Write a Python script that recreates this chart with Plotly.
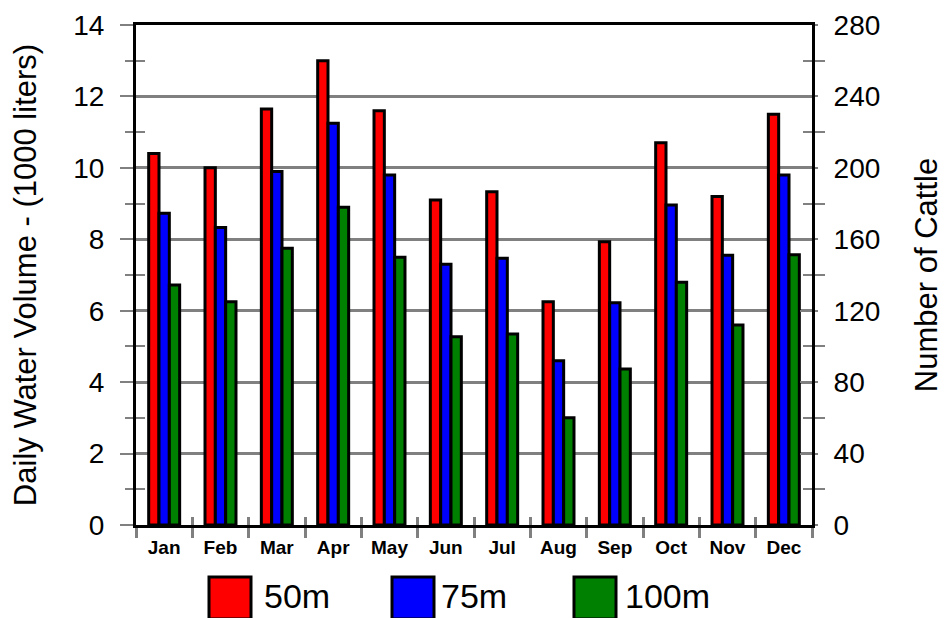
import plotly.graph_objects as go

months = ["Jan", "Feb", "Mar", "Apr", "May", "Jun", "Jul", "Aug", "Sep", "Oct", "Nov", "Dec"]
vol_50m = [10.4, 10.0, 11.65, 13.0, 11.6, 9.1, 9.33, 6.25, 7.93, 10.7, 9.2, 11.5]
vol_75m = [8.73, 8.33, 9.9, 11.25, 9.8, 7.3, 7.47, 4.6, 6.22, 8.96, 7.55, 9.8]
vol_100m = [6.72, 6.25, 7.75, 8.9, 7.5, 5.27, 5.35, 3.0, 4.37, 6.8, 5.6, 7.57]
series_names = ["50m", "75m", "100m"]
series_colors = ["#FF0000", "#0000FF", "#008000"]

# the page body has an 8px margin; compensate so the plot lands where the reference has it
OFF = 8
W, H = 946 - OFF, 618 - OFF
L, T = 136 - OFF, 25 - OFF
PW, PH = 676, 500
R, B = W - L - PW, H - T - PH


def px(page_x):
    return (page_x - OFF - L) / PW


def py(page_y):
    return (T + PH - (page_y - OFF)) / PH


FONT = "Liberation Sans, Arial, sans-serif"
GRAY = "#808080"

fig = go.Figure()
for name, vals, col in zip(series_names, [vol_50m, vol_75m, vol_100m], series_colors):
    fig.add_bar(x=months, y=vals, name=name,
                marker=dict(color=col, line=dict(color="black", width=3)),
                showlegend=False)

# helper traces to activate overlay axes
fig.add_scatter(x=months, y=[None] * 12, yaxis="y2", showlegend=False, hoverinfo="skip")
fig.add_scatter(x=months, y=[None] * 12, xaxis="x2", yaxis="y3", showlegend=False, hoverinfo="skip")
fig.add_scatter(x=months, y=[None] * 12, yaxis="y4", showlegend=False, hoverinfo="skip")

fig.update_layout(
    width=W, height=H,
    margin=dict(l=L, r=R, t=T, b=B, autoexpand=False),
    paper_bgcolor="white", plot_bgcolor="white",
    barmode="group", bargap=0.45, bargroupgap=0,
    font=dict(family=FONT, color="black"),
    xaxis=dict(type="category", categoryarray=months, categoryorder="array",
               range=[-0.5, 11.5], tickson="boundaries", automargin=False,
               ticks="outside", ticklen=10, tickwidth=3, tickcolor=GRAY,
               showline=True, linecolor="black", linewidth=3, mirror=True,
               showgrid=False, tickfont=dict(family=FONT, size=19, weight="bold"),
               ticklabelstandoff=3),
    xaxis2=dict(type="category", categoryarray=months, categoryorder="array",
                range=[-0.5, 11.5], tickson="boundaries", overlaying="x",
                anchor="y", side="bottom", automargin=False,
                ticks="inside", ticklen=8, tickwidth=3, tickcolor=GRAY,
                showticklabels=False, showline=False, showgrid=False),
    yaxis=dict(range=[0, 14], tick0=0, dtick=2, automargin=False,
               ticks="outside", ticklen=13, tickwidth=2, tickcolor=GRAY,
               minor=dict(dtick=1, ticks="outside", ticklen=8, tickwidth=2,
                          tickcolor=GRAY, showgrid=False),
               showline=True, linecolor="black", linewidth=3,
               showgrid=True, gridcolor=GRAY, gridwidth=2.5, zeroline=False,
               tickfont=dict(size=28), ticklabelstandoff=10,
               title=dict(text="Daily Water Volume - (1000 liters)",
                          font=dict(size=31), standoff=38)),
    yaxis3=dict(range=[0, 14], tick0=0, dtick=2, overlaying="y", side="left",
                anchor="x", automargin=False,
                ticks="inside", ticklen=3, tickwidth=2, tickcolor=GRAY,
                minor=dict(dtick=1, ticks="inside", ticklen=9, tickwidth=2,
                           tickcolor=GRAY, showgrid=False),
                showticklabels=False, showline=False, showgrid=False, zeroline=False),
    yaxis2=dict(range=[0, 280], tick0=0, dtick=40, overlaying="y", side="right",
                anchor="x", automargin=False,
                ticks="outside", ticklen=3, tickwidth=2, tickcolor=GRAY,
                minor=dict(dtick=20, ticks="outside", ticklen=10, tickwidth=2,
                           tickcolor=GRAY, showgrid=False),
                showline=True, linecolor="black", linewidth=3,
                showgrid=False, zeroline=False,
                tickfont=dict(size=28), ticklabelstandoff=10,
                title=dict(text="Number of Cattle", font=dict(size=31), standoff=36)),
    yaxis4=dict(range=[0, 280], tick0=0, dtick=40, overlaying="y", side="right",
                anchor="x", automargin=False,
                ticks="inside", ticklen=12, tickwidth=2, tickcolor=GRAY,
                minor=dict(dtick=20, ticks="inside", ticklen=9, tickwidth=2,
                           tickcolor=GRAY, showgrid=False),
                showticklabels=False, showline=False, showgrid=False, zeroline=False),
)

# custom legend with large swatches (page pixel positions)
legend_box_x = [209, 392, 574]
legend_text_x = [262, 439, 623]
box_size = 42
box_top = 577
for name, col, bx, tx in zip(series_names, series_colors, legend_box_x, legend_text_x):
    fig.add_shape(type="rect", xref="paper", yref="paper",
                  x0=px(bx), x1=px(bx + box_size), y0=py(box_top), y1=py(box_top + box_size),
                  fillcolor=col, line=dict(color="black", width=3))
    fig.add_annotation(xref="paper", yref="paper", x=px(tx), y=py(596),
                       text=name, showarrow=False, xanchor="left", yanchor="middle",
                       font=dict(size=34, family=FONT, color="black"))

fig.write_html("out.html")
